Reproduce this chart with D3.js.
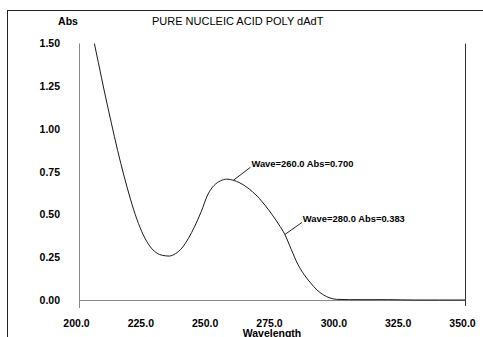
<!DOCTYPE html>
<html>
<head>
<meta charset="utf-8">
<script src="https://cdn.jsdelivr.net/npm/d3@7"></script>
<style>
  html, body { margin: 0; padding: 0; background: #fff; }
  #wrap { position: relative; width: 483px; height: 337px; overflow: hidden; }
  #frame { position: absolute; left: 7px; top: 10px; width: 480px; height: 340px;
           border-top: 1px solid #222; border-left: 1px solid #222; box-sizing: border-box; }
  svg { display: block; position: absolute; left: 0; top: 0; }
  text { font-family: "Liberation Sans", Arial, sans-serif; fill: #000; }
</style>
</head>
<body>
<div id="wrap">
<div id="frame"></div>
<svg id="chart" width="483" height="337"></svg>
</div>
<script>
// ---- data ----
const title = "PURE NUCLEIC ACID POLY dAdT";
const yLabel = "Abs";
const xLabel = "Wavelength";
const wavelengths = [205, 207.5, 210, 212.5, 215, 217.5, 220, 222.5, 225, 227.5, 230, 232.5, 235, 237.5, 240, 242.5, 245, 247.5, 250, 252.5, 255, 257.5, 260, 262.5, 265, 267.5, 270, 272.5, 275, 277.5, 280, 282.5, 285, 287.5, 290, 292.5, 295, 297.5, 300, 305, 310, 315, 320, 325, 330, 335, 340, 345, 350];
const absorbance  = [1.57, 1.39, 1.21, 1.04, 0.875, 0.725, 0.59, 0.472, 0.38, 0.315, 0.277, 0.261, 0.257, 0.271, 0.304, 0.36, 0.432, 0.517, 0.615, 0.670, 0.697, 0.707, 0.700, 0.685, 0.662, 0.632, 0.595, 0.55, 0.50, 0.445, 0.383, 0.295, 0.21, 0.148, 0.10, 0.058, 0.03, 0.012, 0.004, 0.002, 0.002, 0.002, 0.002, 0.001, 0.0, 0.0, 0.0, 0.0, 0.0];
const xTicks = [200, 225, 250, 275, 300, 325, 350];
const yTicks = [0, 0.25, 0.5, 0.75, 1.0, 1.25, 1.5];
const annotations = [
  { wave: 260, abs: 0.700, label: "Wave=260.0 Abs=0.700" },
  { wave: 280, abs: 0.383, label: "Wave=280.0 Abs=0.383" }
];

// ---- layout ----
const svg = d3.select("#chart");
const x = d3.scaleLinear().domain([200, 350]).range([79, 465]);
const y = d3.scaleLinear().domain([0, 1.5]).range([300, 43.5]);

// axes lines
svg.append("line").attr("x1", x(200) + 0.5).attr("x2", x(200) + 0.5)
  .attr("y1", y(1.5)).attr("y2", 308).attr("stroke", "#8a8a8a");
svg.append("line").attr("x1", x(200)).attr("x2", x(350))
  .attr("y1", y(0) + 0.5).attr("y2", y(0) + 0.5).attr("stroke", "#8a8a8a");
svg.append("line").attr("x1", x(350) + 0.5).attr("x2", x(350) + 0.5)
  .attr("y1", y(1.5)).attr("y2", 306).attr("stroke", "#333");

// y axis labels
const yAxis = d3.axisLeft(y).tickValues(yTicks).tickFormat(d3.format(".2f"))
  .tickSize(0).tickPadding(19);
const gy = svg.append("g").attr("transform", `translate(${x(200)},0)`).call(yAxis);
gy.select(".domain").remove();
gy.selectAll("text").attr("font-family", "Liberation Sans, Arial, sans-serif")
  .attr("font-size", 10.5).attr("font-weight", "bold").attr("fill", "#000");

// x axis labels
const xAxis = d3.axisBottom(x).tickValues(xTicks).tickFormat(d3.format(".1f"))
  .tickSize(0).tickPadding(0);
const gx = svg.append("g").attr("transform", `translate(-3,${y(0)})`).call(xAxis);
gx.select(".domain").remove();
gx.selectAll("text").attr("font-family", "Liberation Sans, Arial, sans-serif")
  .attr("font-size", 10.5).attr("font-weight", "bold").attr("fill", "#000")
  .attr("dy", null).attr("y", 26.5);

// clip for curve
svg.append("clipPath").attr("id", "plotclip").append("rect")
  .attr("x", x(200)).attr("y", y(1.5)).attr("width", x(350) - x(200)).attr("height", y(0) - y(1.5) + 2);

const data = wavelengths.map((w, i) => [w, absorbance[i]]);
const line = d3.line().x(d => x(d[0])).y(d => y(d[1])).curve(d3.curveMonotoneX);
svg.append("path").datum(data).attr("d", line)
  .attr("fill", "none").attr("stroke", "#1a1a1a").attr("stroke-width", 1)
  .attr("clip-path", "url(#plotclip)");

// annotations
const annOffsets = [[17, -13], [17, -12]];
annotations.forEach((a, i) => {
  const px = x(a.wave), py = y(a.abs);
  const [dx, dy] = annOffsets[i];
  svg.append("line").attr("x1", px).attr("y1", py).attr("x2", px + dx).attr("y2", py + dy)
    .attr("stroke", "#222").attr("stroke-width", 1);
  svg.append("text").attr("x", px + dx + 1).attr("y", py + dy - 3)
    .attr("dominant-baseline", "middle")
    .attr("font-size", 9.4).attr("font-weight", "bold").text(a.label);
});

// titles
svg.append("text").attr("x", 152).attr("y", 25).attr("font-size", 11).text(title);
svg.append("text").attr("x", 68).attr("y", 25).attr("text-anchor", "middle")
  .attr("font-size", 10.5).attr("font-weight", "bold").text(yLabel);
svg.append("text").attr("x", 272).attr("y", 336.5).attr("text-anchor", "middle")
  .attr("font-size", 10.5).attr("font-weight", "bold").text(xLabel);
</script>
</body>
</html>
